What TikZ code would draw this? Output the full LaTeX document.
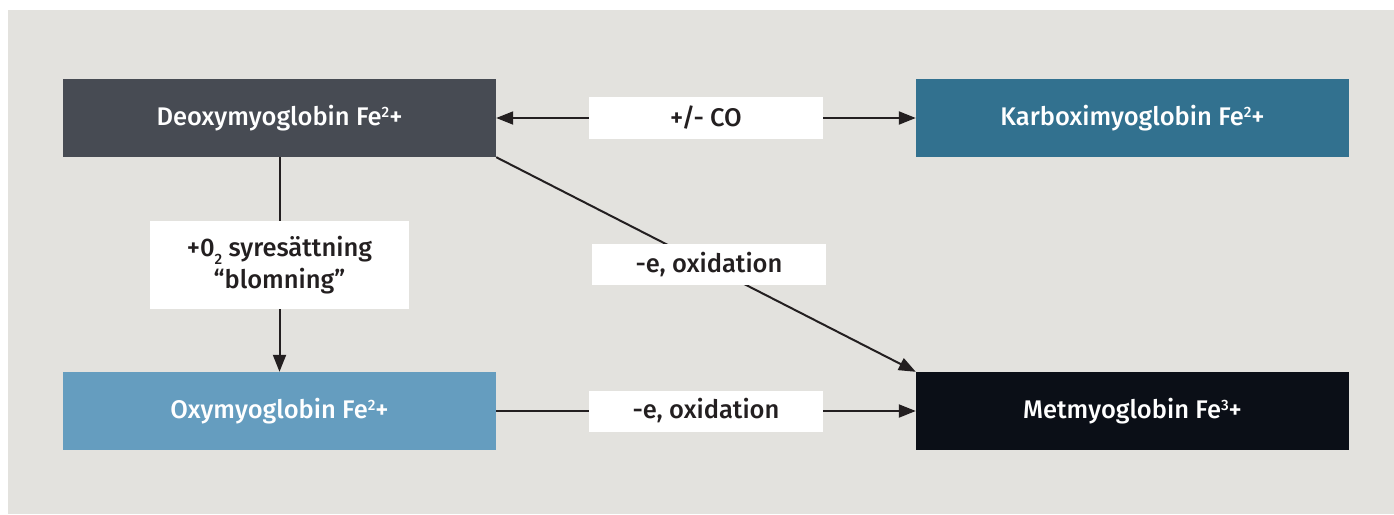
\documentclass[tikz,border=0pt]{standalone}
\usepackage{fontspec}
\setmainfont{Fira Sans}[BoldFont={Fira Sans Medium}]
\usetikzlibrary{arrows.meta}
\definecolor{panelbg}{HTML}{E3E2DE}
\definecolor{deoxyc}{HTML}{474B53}
\definecolor{karbc}{HTML}{32718F}
\definecolor{oxyc}{HTML}{659DBF}
\definecolor{metc}{HTML}{0B0F17}
\definecolor{inkc}{HTML}{231F20}
\newcommand{\supnum}[1]{\raisebox{0.3em}{\fontsize{15}{15}\selectfont #1}}
\newcommand{\subnum}[1]{\raisebox{-0.3em}{\fontsize{15}{15}\selectfont #1}}
\tikzset{
  state/.style={minimum width=433pt, minimum height=78pt, inner sep=0pt,
    text=white, font=\fontsize{25.5}{30}\selectfont\bfseries},
  tag/.style={fill=white, inner sep=0pt, text=inkc, align=center,
    font=\fontsize{25.5}{32}\selectfont\bfseries},
  link/.style={draw=inkc, line width=2pt},
  tip/.style={-{Triangle[length=17pt,width=13pt]}},
  twotips/.style={{Triangle[length=17pt,width=13pt]}-{Triangle[length=17pt,width=13pt]}},
}
\begin{document}
\begin{tikzpicture}[x=1pt,y=-1pt]
  \useasboundingbox (0,0) rectangle (1394,514);
  \fill[panelbg] (8,10) rectangle (1394,514);

  % the four myoglobin states
  \node[state, fill=deoxyc] (deoxy) at (279.5,118) {Deoxymyoglobin Fe\supnum{2}+};
  \node[state, fill=karbc]  (karb)  at (1132.5,118) {Karboximyoglobin Fe\supnum{2}+};
  \node[state, fill=oxyc]   (oxy)   at (279.5,411) {Oxymyoglobin Fe\supnum{2}+};
  \node[state, fill=metc]   (met)   at (1132.5,411) {Metmyoglobin Fe\supnum{3}+};

  % transitions
  \draw[link, twotips] (deoxy.east) -- (karb.west);
  \draw[link, tip] (deoxy.south) -- (oxy.north);
  \draw[link, tip] (deoxy.south east) -- (met.north west);
  \draw[link, tip] (oxy.east) -- (met.west);

  % labels on the transitions
  \node[tag, minimum width=234pt, minimum height=42pt] (co) at (706,118) {+/- CO};
  \node[tag, minimum width=259pt, minimum height=88pt] (otwo) at (279.5,265)
    {+0\subnum{2} syresättning\\“blomning”};
  \node[tag, minimum width=234pt, minimum height=41pt] (oxdiag) at (709,264.5) {-e, oxidation};
  \node[tag, minimum width=234pt, minimum height=41pt] (oxbot) at (706,411) {-e, oxidation};
\end{tikzpicture}
\end{document}
